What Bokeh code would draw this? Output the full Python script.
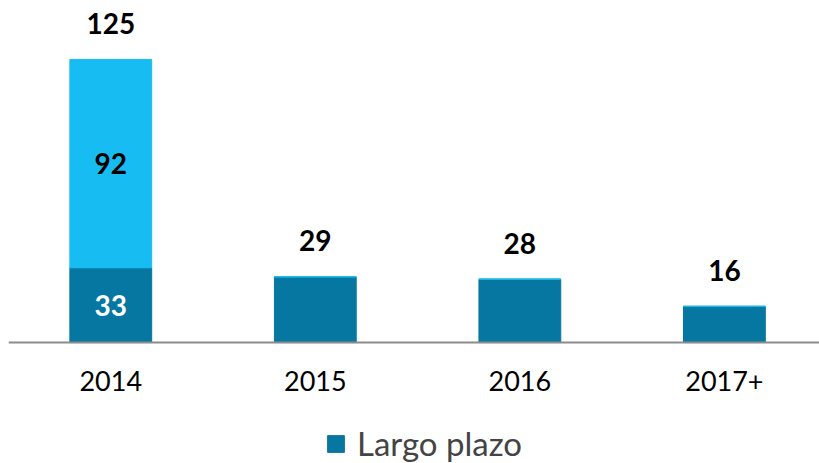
from bokeh.plotting import figure
from bokeh.models import Range1d, FixedTicker, Legend, LegendItem, ColumnDataSource
from bokeh.core.properties import value
from bokeh.embed import file_html
from bokeh.resources import INLINE

categories = ["2014", "2015", "2016", "2017+"]
largo_plazo = [33, 29, 28, 16]
corto_plazo = [92, 0, 0, 0]

DARK = "#0677A1"
LIGHT = "#17BCF2"
FONT = "Lato"

xs = list(range(len(categories)))
totals = [a + b for a, b in zip(largo_plazo, corto_plazo)]

p = figure(frame_width=811, frame_height=455, output_backend="svg", toolbar_location=None,
           x_range=Range1d(-0.5, 3.465), y_range=Range1d(-53.4, 147.5),
           y_axis_location=None, min_border=0, min_border_left=8, min_border_top=8,
           outline_line_color=None)
p.background_fill_color = None
p.grid.visible = False

src = ColumnDataSource(dict(x=xs, largo=largo_plazo, corto=corto_plazo,
                            top2=totals, tot=[str(t) for t in totals]))

r_dark = p.vbar(x="x", top="largo", bottom=0, width=0.40, color=DARK, source=src)
p.vbar(x="x", top="top2", bottom="largo", width=0.40, color=LIGHT, source=src)

# totals above bars
p.text(x="x", y="top2", text="tot", source=src, y_offset=-36,
       text_font=value(FONT), text_font_style="bold", text_font_size="28px",
       text_align="center", text_baseline="middle", text_color="black")

# inner labels for 2014
i0 = 0
p.text(x=[xs[i0]], y=[largo_plazo[i0] / 2], text=[str(largo_plazo[i0])],
       text_font=value(FONT), text_font_style="bold", text_font_size="28px",
       text_align="center", text_baseline="middle", text_color="white")
p.text(x=[xs[i0]], y=[largo_plazo[i0] + corto_plazo[i0] / 2], text=[str(corto_plazo[i0])],
       text_font=value(FONT), text_font_style="bold", text_font_size="28px",
       text_align="center", text_baseline="middle", text_color="black")

ax = p.xaxis[0]
ax.fixed_location = 0
ax.ticker = FixedTicker(ticks=xs)
ax.major_label_overrides = {i: c for i, c in zip(xs, categories)}
ax.axis_line_color = "#8C8C8C"
ax.axis_line_width = 2
ax.major_tick_line_color = None
ax.minor_tick_line_color = None
ax.major_label_standoff = 22
ax.major_label_text_font = FONT
ax.major_label_text_font_size = "27px"
ax.major_label_text_color = "black"

legend = Legend(items=[LegendItem(label="Largo plazo", renderers=[r_dark])],
                orientation="horizontal", location=(317, 0),
                label_text_font=FONT, label_text_font_size="33px",
                glyph_width=21, glyph_height=21, label_standoff=11, label_height=40,
                border_line_color=None, background_fill_color=None,
                margin=0, padding=0, spacing=0)
p.add_layout(legend, "center")

open("out.html", "w").write(file_html(p, INLINE))
